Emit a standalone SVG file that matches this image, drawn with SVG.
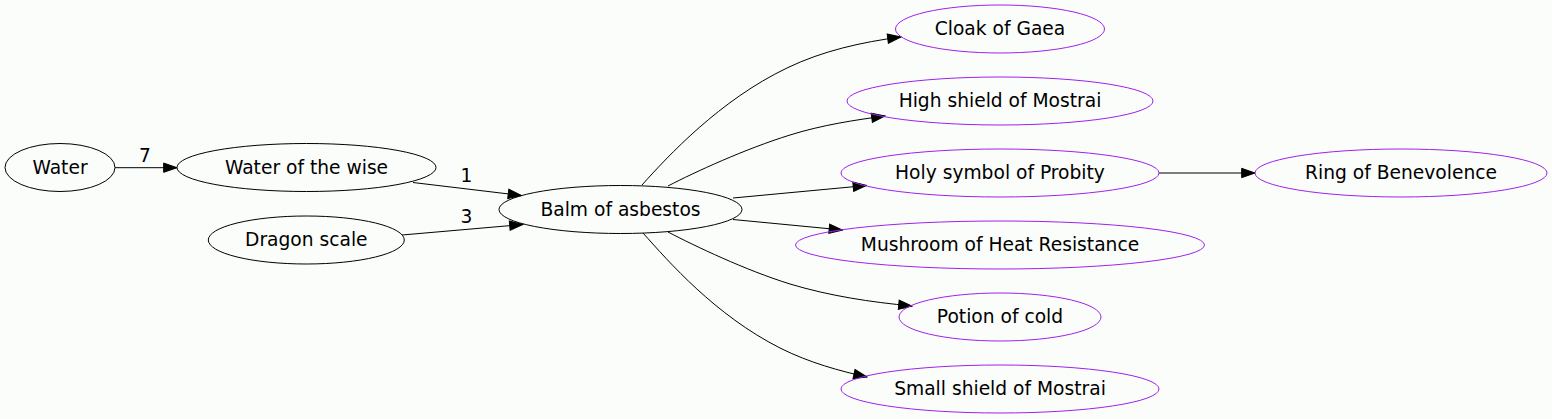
<svg xmlns="http://www.w3.org/2000/svg" width="1552" height="419" viewBox="0 0 1552 419">
<style>
  .n ellipse { fill: none; stroke: #000000; stroke-width: 1; }
  .p ellipse { fill: none; stroke: #a020f0; stroke-width: 1; }
  text { font-family: "DejaVu Sans", "Liberation Sans", sans-serif; font-size: 18.67px; fill: #000000; text-anchor: middle; }
  .e path { fill: none; stroke: #000000; stroke-width: 1; marker-end: url(#arr); }
</style>
<defs>
  <marker id="arr" markerUnits="userSpaceOnUse" viewBox="-1 -1 15.33 11.33" markerWidth="15.33" markerHeight="11.33" refX="13.33" refY="4.67" orient="auto">
    <path d="M0,0 L13.33,4.67 L0,9.33 Z" fill="#000000" stroke="#000000" stroke-width="1"/>
  </marker>
</defs>
<rect x="0" y="0" width="1552" height="419" fill="#fbfdfa"/>
<g id="edges" class="e">
  <path d="M115,167.7 L177,167.7"/>
  <path d="M413,182.5 L521.5,195.5"/>
  <path d="M402,235 L523,224.5"/>
  <path d="M642,185 C 668,156 720,100 787,68 C 822,51 862,42 901,37"/>
  <path d="M668,186 C 695,172 745,149 790,135 C 822,125 855,120 885,116"/>
  <path d="M733,198 L866.5,185.5"/>
  <path d="M733,219.5 L842.5,230"/>
  <path d="M668,232 C 695,246 745,270 790,284 C 830,296 870,302 912,306"/>
  <path d="M643,233 C 669,262 715,315 780,348 C 810,363 840,371 867,377"/>
  <path d="M1159,173 L1255,173"/>
  <text x="145" y="161.7">7</text>
  <text x="466.5" y="181.7">1</text>
  <text x="466.5" y="223.3">3</text>
</g>
<g id="water" class="n"><ellipse cx="60" cy="167.5" rx="55" ry="24"/><text x="60" y="173.5">Water</text></g>
<g id="water_of_the_wise" class="n"><ellipse cx="306.5" cy="167.5" rx="129.5" ry="24"/><text x="306.5" y="173.5">Water of the wise</text></g>
<g id="dragon_scale" class="n"><ellipse cx="306.3" cy="240" rx="98" ry="24"/><text x="306.3" y="246">Dragon scale</text></g>
<g id="balm_of_asbestos" class="n"><ellipse cx="620.5" cy="209.5" rx="121.5" ry="24"/><text x="620.5" y="215.5">Balm of asbestos</text></g>
<g id="cloak_of_gaea" class="p"><ellipse cx="1000" cy="29" rx="104.5" ry="24"/><text x="1000" y="35">Cloak of Gaea</text></g>
<g id="high_shield_of_mostrai" class="p"><ellipse cx="1000" cy="101" rx="153" ry="24"/><text x="1000" y="107">High shield of Mostrai</text></g>
<g id="holy_symbol_of_probity" class="p"><ellipse cx="1000" cy="173" rx="159" ry="24"/><text x="1000" y="179">Holy symbol of Probity</text></g>
<g id="mushroom_of_heat_resistance" class="p"><ellipse cx="1000" cy="245" rx="204.5" ry="24"/><text x="1000" y="251">Mushroom of Heat Resistance</text></g>
<g id="potion_of_cold" class="p"><ellipse cx="1000" cy="317" rx="101" ry="24"/><text x="1000" y="323">Potion of cold</text></g>
<g id="small_shield_of_mostrai" class="p"><ellipse cx="1000" cy="389" rx="159" ry="24"/><text x="1000" y="395">Small shield of Mostrai</text></g>
<g id="ring_of_benevolence" class="p"><ellipse cx="1401" cy="173" rx="146" ry="24"/><text x="1401" y="179">Ring of Benevolence</text></g>
</svg>
